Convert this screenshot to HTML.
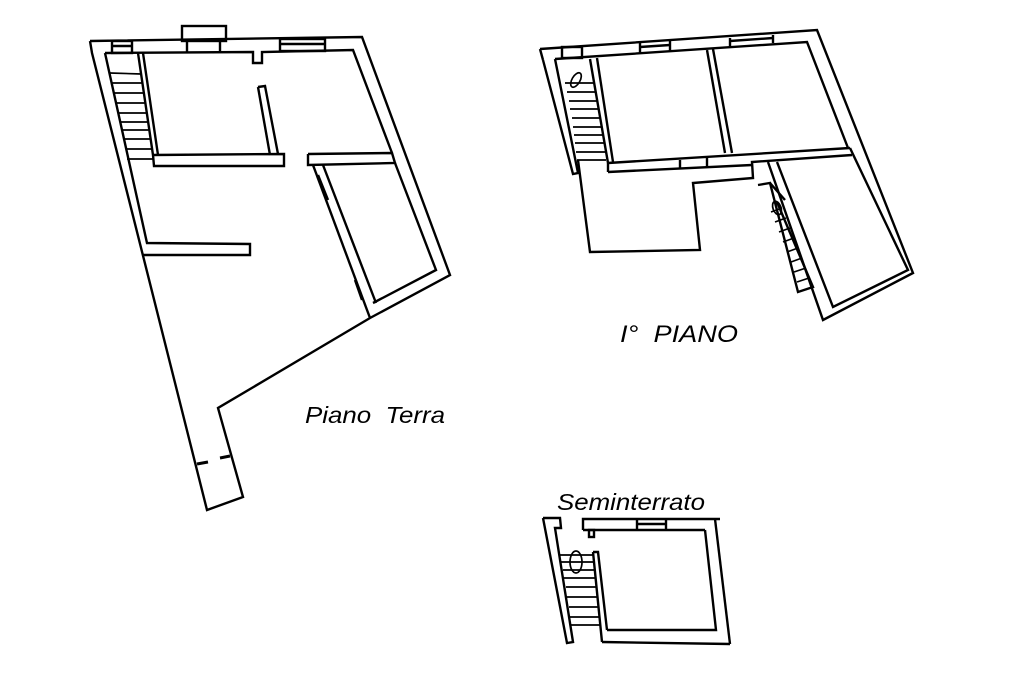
<!DOCTYPE html>
<html><head><meta charset="utf-8"><style>html,body{margin:0;padding:0;background:#fff}svg{display:block}</style></head>
<body>
<svg width="1024" height="683" viewBox="0 0 1024 683" xmlns="http://www.w3.org/2000/svg">
<g fill="none" stroke="#000" stroke-width="2.4" stroke-linejoin="miter">
<!-- PIANO TERRA -->
<rect x="182" y="26" width="44" height="15"/>
<polyline points="90,41 362,37 450,275 370,318 218,408 243,497 207,510 92,53 90,41"/>
<line x1="187" y1="41" x2="187" y2="52"/><line x1="220" y1="41" x2="220" y2="52"/>
<polyline points="105,53 253,52 253,63 262,63 262,52 353,50 392,153"/>
<rect x="112" y="41" width="20" height="12"/><line x1="112" y1="46" x2="132" y2="46"/>
<rect x="280" y="39" width="45" height="12"/><line x1="280" y1="44" x2="325" y2="44"/>
<polyline points="105,53 147,243 250,244 250,255 143,255"/>
<polyline points="138,53 153,155 284,154 284,166 154,166 153,155"/>
<line x1="143" y1="53" x2="158" y2="155"/>
<polyline points="258,87 265,86 278,154"/><line x1="258" y1="87" x2="270" y2="155"/>
<polyline points="308,154 392,153 395,163 308,165 308,154"/>
<polyline points="395,163 436,270 373,303"/>
<line x1="313" y1="165" x2="370" y2="318"/>
<line x1="323" y1="165" x2="376" y2="303"/>
<line x1="318" y1="175" x2="328" y2="200"/><line x1="355" y1="280" x2="362" y2="300"/>
<g stroke-width="1.7">
<line x1="110" y1="73" x2="141" y2="74"/><line x1="112" y1="83" x2="142" y2="83"/>
<line x1="114" y1="93" x2="144" y2="93"/><line x1="116" y1="103" x2="145" y2="103"/>
<line x1="118" y1="113" x2="147" y2="113"/><line x1="120" y1="122" x2="148" y2="122"/>
<line x1="122" y1="130" x2="149" y2="130"/><line x1="124" y1="139" x2="151" y2="139"/>
<line x1="126" y1="149" x2="152" y2="149"/><line x1="127" y1="159" x2="153" y2="159"/>
</g>
<line x1="197" y1="464" x2="208" y2="462" stroke-width="3"/>
<line x1="220" y1="458" x2="230" y2="456" stroke-width="3"/>

<!-- I PIANO -->
<polyline points="540,49 817,30 913,273 823,320 768,162"/>
<line x1="540" y1="49" x2="543" y2="60"/>
<polyline points="555,59 807,42 848,148"/>
<rect x="562" y="47" width="20" height="11"/>
<line x1="640" y1="43" x2="640" y2="53"/><line x1="670" y1="41" x2="670" y2="51"/><line x1="640" y1="47" x2="670" y2="45"/>
<line x1="730" y1="38" x2="730" y2="46"/><line x1="773" y1="35" x2="773" y2="43"/><line x1="730" y1="41" x2="773" y2="38"/>
<polyline points="543,60 573,174 578,173 555,59"/>
<polyline points="578,160 590,252 700,250 693,183 753,178 752,162 852,155"/>
<line x1="608" y1="163" x2="850" y2="148"/>
<line x1="608" y1="172" x2="752" y2="165"/>
<line x1="608" y1="163" x2="608" y2="172"/>
<line x1="680" y1="160" x2="680" y2="168"/><line x1="707" y1="158" x2="707" y2="167"/>
<line x1="590" y1="59" x2="608" y2="163"/><line x1="597" y1="58" x2="613" y2="162"/>
<line x1="707" y1="50" x2="725" y2="153"/><line x1="713" y1="49" x2="732" y2="153"/>
<polyline points="850,148 908,270 833,307 777,162"/>
<polyline points="758,185 770,183 798,292 813,287 777,202"/>
<line x1="770" y1="183" x2="785" y2="200"/>
<g stroke-width="1.7">
<line x1="565" y1="83" x2="594" y2="83"/><line x1="567" y1="92" x2="596" y2="92"/>
<line x1="569" y1="101" x2="597" y2="101"/><line x1="570" y1="109" x2="599" y2="109"/>
<line x1="572" y1="118" x2="600" y2="118"/><line x1="573" y1="127" x2="601" y2="127"/>
<line x1="574" y1="135" x2="603" y2="135"/><line x1="575" y1="143" x2="604" y2="143"/>
<line x1="576" y1="152" x2="605" y2="152"/><line x1="577" y1="160" x2="606" y2="160"/>
<ellipse cx="576" cy="80" rx="4" ry="8" transform="rotate(30 576 80)"/>
<line x1="771" y1="212" x2="782" y2="208"/><line x1="775" y1="222" x2="786" y2="218"/>
<line x1="779" y1="232" x2="790" y2="228"/><line x1="783" y1="242" x2="794" y2="238"/>
<line x1="787" y1="252" x2="798" y2="248"/><line x1="791" y1="262" x2="802" y2="258"/>
<line x1="794" y1="272" x2="806" y2="268"/><line x1="797" y1="282" x2="809" y2="278"/>
<ellipse cx="777" cy="208" rx="4" ry="7" transform="rotate(-20 777 208)"/>
</g>

<!-- SEMINTERRATO -->
<polyline points="543,518 560,518 561,528 555,528 573,642 567,643 543,518"/>
<polyline points="583,530 583,519 720,519"/>
<line x1="583" y1="530" x2="705" y2="530"/>
<rect x="589" y="530" width="5" height="7"/>
<line x1="637" y1="519" x2="637" y2="530"/><line x1="666" y1="519" x2="666" y2="530"/><line x1="637" y1="524" x2="666" y2="524"/>
<line x1="715" y1="519" x2="730" y2="644"/>
<polyline points="705,530 716,630 607,630"/>
<line x1="602" y1="642" x2="730" y2="644"/>
<polyline points="593,552 598,552 607,630"/><line x1="593" y1="552" x2="602" y2="642"/>
<g stroke-width="1.7">
<line x1="560" y1="555" x2="594" y2="555"/><line x1="561" y1="562" x2="595" y2="562"/>
<line x1="563" y1="570" x2="595" y2="570"/><line x1="564" y1="578" x2="596" y2="578"/>
<line x1="566" y1="587" x2="597" y2="587"/><line x1="567" y1="597" x2="598" y2="597"/>
<line x1="569" y1="607" x2="599" y2="607"/><line x1="570" y1="617" x2="600" y2="617"/>
<line x1="571" y1="625" x2="601" y2="625"/>
<ellipse cx="576" cy="562" rx="6" ry="11"/>
</g>
</g>
<g font-family="'Liberation Sans', sans-serif" fill="#000">
<text x="305" y="423" font-size="23" font-style="italic" textLength="140" lengthAdjust="spacingAndGlyphs" xml:space="preserve">Piano  Terra</text>
<text x="620" y="342" font-size="24" font-style="italic" textLength="118" lengthAdjust="spacingAndGlyphs" xml:space="preserve">I°  PIANO</text>
<text x="557" y="510" font-size="23" font-style="italic" textLength="148" lengthAdjust="spacingAndGlyphs">Seminterrato</text>
</g>
</svg>
</body></html>
